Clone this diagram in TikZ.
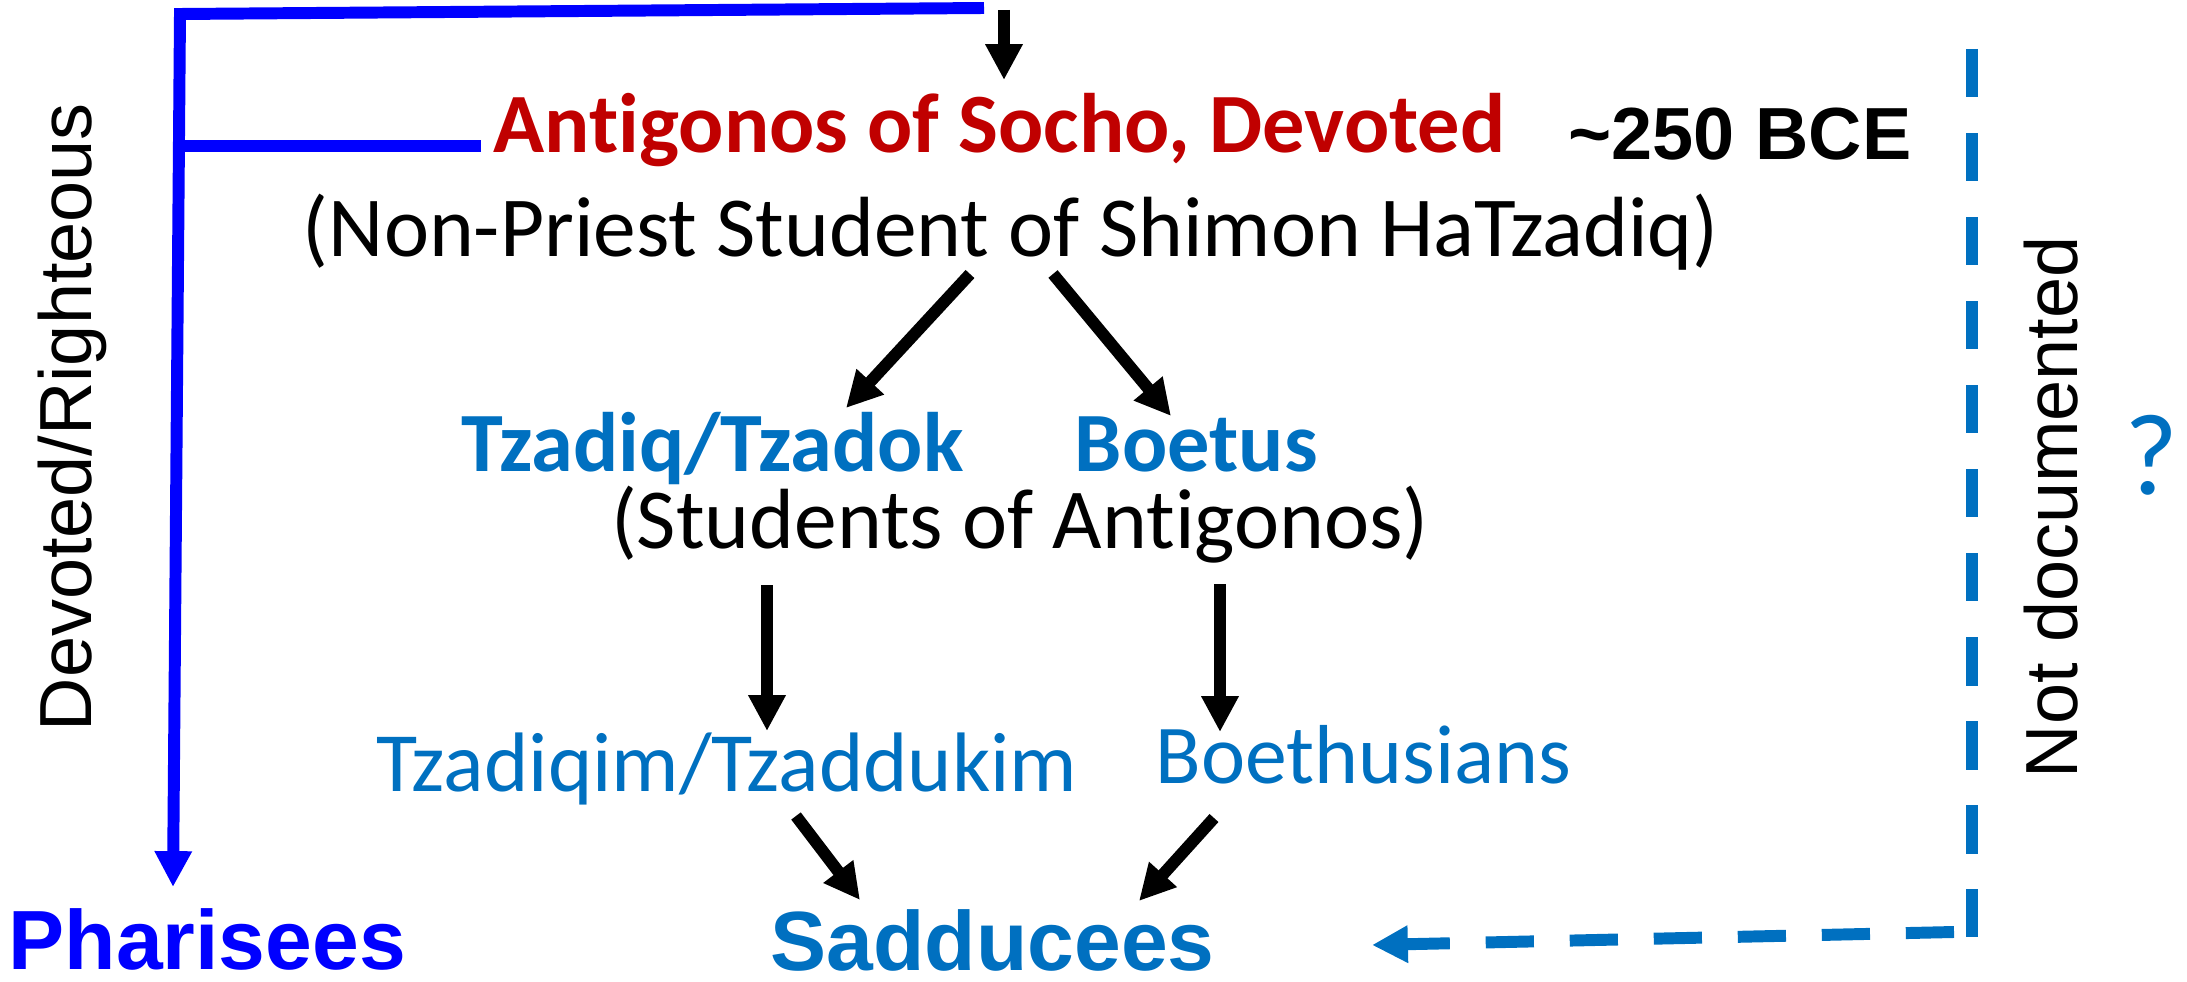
\documentclass[tikz,border=0pt]{standalone}
\usepackage{fontspec}
\newfontfamily\calfont[Ligatures=NoCommon]{Carlito}
\newfontfamily\arialfont{Liberation Sans}
\usetikzlibrary{arrows.meta}
\definecolor{antred}{HTML}{C00000}
\definecolor{pureblue}{HTML}{0000FF}
\definecolor{midblue}{HTML}{0070C0}
\begin{document}
\begin{tikzpicture}[x=0.01cm,y=-0.01cm,
  lbl/.style={inner sep=0pt, anchor=base west},
  clbl/.style={inner sep=0pt, anchor=base},
  tip/.style={-{Triangle[length=10.2pt,width=10pt]}},
  conn/.style={line width=3.4pt, black, tip},
  bline/.style={line width=3.4pt, pureblue},
  dline/.style={line width=3.4pt, midblue, dash pattern=on 13.7pt off 10.2pt},
]
\useasboundingbox (0,0) rectangle (2187,982);

% texts
\node[lbl, text=antred, font=\calfont\bfseries\fontsize{24}{28}\selectfont] (ant) at (493,153) {Antigonos of Socho, Devoted};
\node[lbl, font=\arialfont\bfseries\fontsize{21}{25}\selectfont] (date) at (1568,160) {\textasciitilde250 BCE};
\node[clbl, font=\calfont\fontsize{24.3}{28}\selectfont] (np) at (1011,257) {(Non-Priest Student of Shimon HaTzadiq)};
\node[lbl, text=midblue, font=\calfont\bfseries\fontsize{24}{28}\selectfont] (tz) at (461,471) {Tzadiq/Tzadok};
\node[lbl, text=midblue, font=\calfont\bfseries\fontsize{24}{28}\selectfont] (boe) at (1074,471) {Boetus};
\node[clbl, font=\calfont\fontsize{24.3}{28}\selectfont] (stu) at (1020,548) {(Students of Antigonos)};
\node[lbl, text=midblue, font=\calfont\fontsize{24}{28}\selectfont] (tzm) at (376,791) {Tzadiqim/Tzaddukim};
\node[lbl, text=midblue, font=\calfont\fontsize{23.8}{28}\selectfont] (bth) at (1155,783) {Boethusians};
\node[lbl, text=pureblue, font=\arialfont\bfseries\fontsize{23.9}{28}\selectfont] (ph) at (8,969) {Pharisees};
\node[lbl, text=midblue, font=\arialfont\bfseries\fontsize{23.9}{28}\selectfont] (sad) at (770,970) {Sadducees};
\node[lbl, rotate=90, font=\arialfont\fontsize{21}{25}\selectfont] (dr) at (91,732) {Devoted/Righteous};
\node[lbl, rotate=90, font=\arialfont\fontsize{21}{25}\selectfont] (nd) at (2077,779) {Not documented};
\node[lbl, text=midblue, font=\calfont\fontsize{33}{37}\selectfont] (q) at (2124,494) {?};

% blue bracket to Pharisees
\coordinate (bTR) at (984,8);
\coordinate (bTL) at (180,14);
\coordinate (bTip) at (173,887);
\coordinate (bM) at (179,146);
\coordinate (bMR) at (481,146);
\draw[bline, tip] (bTR) -- (bTL) -- (bTip);
\draw[bline] (bM) -- (bMR);

% top black arrow
\coordinate (topS) at (1004,10);
\coordinate (topE) at (1004,80);
\draw[conn] (topS) -- (topE);

% black arrows
\coordinate (a1s) at (970,274);  \coordinate (a1e) at (846,408);
\coordinate (a2s) at (1053,274); \coordinate (a2e) at (1171,416);
\coordinate (a3s) at (767,585);  \coordinate (a3e) at (767,731);
\coordinate (a4s) at (1220,584); \coordinate (a4e) at (1220,732);
\coordinate (a5s) at (796,816);  \coordinate (a5e) at (860,900);
\coordinate (a6s) at (1214,818); \coordinate (a6e) at (1139,901);
\draw[conn] (a1s) -- (a1e);
\draw[conn] (a2s) -- (a2e);
\draw[conn] (a3s) -- (a3e);
\draw[conn] (a4s) -- (a4e);
\draw[conn] (a5s) -- (a5e);
\draw[conn] (a6s) -- (a6e);

% dashed not-documented link
\coordinate (dTop) at (1972,49);
\coordinate (dBot) at (1972,937);
\coordinate (dR) at (1954,932);
\coordinate (dTip) at (1372,945);
\draw[dline] (dTop) -- (dBot);
\draw[dline, tip] (dR) -- (dTip);
\end{tikzpicture}
\end{document}
